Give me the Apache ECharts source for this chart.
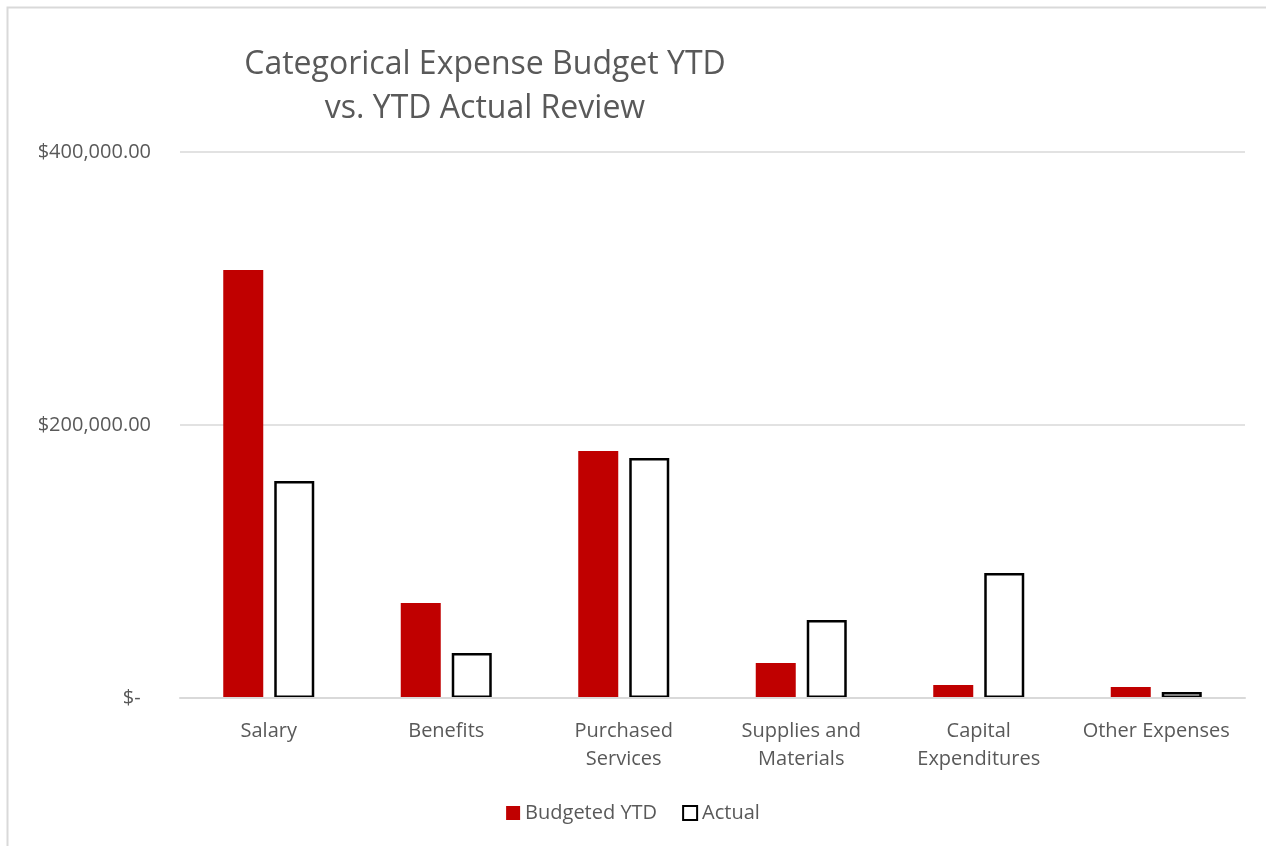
<!DOCTYPE html>
<html>
<head>
<meta charset="utf-8">
<script src="https://cdn.jsdelivr.net/npm/echarts@6/dist/echarts.min.js"></script>
<style>
  html, body { margin: 0; padding: 0; background: #fff; }
  #chart { width: 1266px; height: 846px; }
</style>
</head>
<body>
<div id="chart"></div>
<script>
// categories and values
var categories = ['Salary', 'Benefits', 'Purchased\nServices', 'Supplies and\nMaterials', 'Capital\nExpenditures', 'Other Expenses']
var budgetedYTD = [313500, 69600, 181000, 25600, 9500, 8000]
var actual = [159000, 33000, 175800, 57100, 91600, 4400]
var yTicks = [0, 200000, 400000]

var textColor = '#595959'
var fontFamily = '"Open Sans", "Liberation Sans", sans-serif'

function money(v) {
  if (v === 0) return '$-  '
  return '$' + v.toLocaleString('en-US', { minimumFractionDigits: 2, maximumFractionDigits: 2 })
}

var chart = echarts.init(document.getElementById('chart'))

var option = {
  backgroundColor: '#ffffff',
  textStyle: { fontFamily: fontFamily },
  title: {
    text: 'Categorical Expense Budget YTD\nvs. YTD Actual Review',
    left: 480,
    top: 38,
    textAlign: 'center',
    textStyle: {
      color: textColor,
      fontSize: 32,
      fontWeight: 'normal',
      lineHeight: 44,
      fontFamily: fontFamily
    }
  },
  graphic: [
    {
      type: 'rect',
      shape: { x: 7.5, y: 7.5, width: 1300, height: 900 },
      style: { fill: 'none', stroke: '#d9d9d9', lineWidth: 2 },
      silent: true
    }
  ],
  legend: {
    bottom: 18,
    left: 'center',
    icon: 'rect',
    itemWidth: 14,
    itemHeight: 14,
    itemGap: 25,
    textStyle: { color: textColor, fontSize: 20, fontFamily: fontFamily },
    data: ['Budgeted YTD', 'Actual']
  },
  grid: {
    left: 180,
    right: 21,
    top: 152,
    bottom: 148
  },
  xAxis: {
    type: 'category',
    data: categories,
    z: 3,
    axisLine: { lineStyle: { color: '#d9d9d9', width: 2 } },
    axisTick: { show: false },
    axisLabel: {
      color: textColor,
      fontSize: 20,
      lineHeight: 28,
      margin: 19,
      interval: 0,
      fontFamily: fontFamily
    }
  },
  yAxis: {
    type: 'value',
    min: 0,
    max: 400000,
    interval: 200000,
    axisLine: { show: false },
    axisTick: { show: false },
    splitLine: { lineStyle: { color: '#d9d9d9', width: 1.5 } },
    axisLabel: {
      color: textColor,
      fontSize: 20,
      margin: 29,
      fontFamily: fontFamily,
      formatter: function (v) { return yTicks.indexOf(v) >= 0 ? money(v) : '' }
    }
  },
  series: [
    {
      name: 'Budgeted YTD',
      type: 'bar',
      data: budgetedYTD,
      barWidth: 40,
      barGap: '27.5%',
      itemStyle: { color: '#c00000' }
    },
    {
      name: 'Actual',
      type: 'bar',
      data: actual,
      barWidth: 40,
      itemStyle: { color: '#ffffff', borderColor: '#000000', borderWidth: 2.5 }
    }
  ]
}

chart.setOption(option)
</script>
</body>
</html>
